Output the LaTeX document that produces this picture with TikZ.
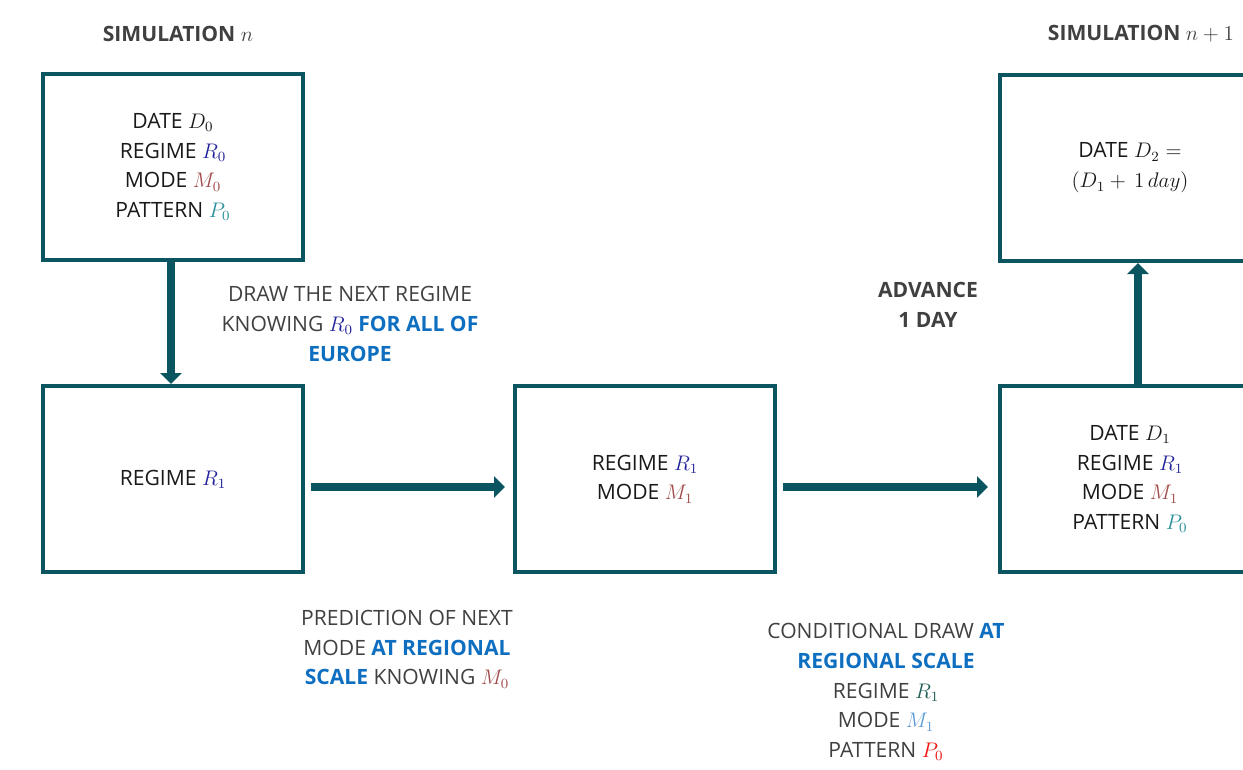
\documentclass[tikz,border=0pt]{standalone}
\usepackage{fontspec}
\setmainfont{Open Sans}
\usetikzlibrary{positioning}
\usetikzlibrary{arrows.meta}
\definecolor{boxline}{HTML}{0B5560}
\definecolor{txtgray}{HTML}{404040}
\definecolor{hlblue}{HTML}{0E6EC0}
\definecolor{regR}{HTML}{22229A}
\definecolor{modeM}{HTML}{A04A4A}
\definecolor{patP}{HTML}{2A8F9C}
\definecolor{regRb}{HTML}{1F5F55}
\definecolor{modeMb}{HTML}{5B9BD5}
\definecolor{patPb}{HTML}{F01010}

\begin{document}
\begin{tikzpicture}[x=0.02cm,y=-0.02cm,
  simbox/.style={draw=boxline,line width=2.3pt,minimum width=5.2cm,minimum height=3.72cm,align=center,font=\fontsize{12}{17}\selectfont,text=black!90},
  note/.style={align=center,text=txtgray,font=\fontsize{12}{17}\selectfont},
  title/.style={text=txtgray,font=\fontsize{12}{17}\selectfont\bfseries},
  flow/.style={draw=boxline,line width=4.5pt,-{Triangle[width=0.42cm,length=0.22cm]}}]
  \useasboundingbox (0,0) rectangle (1243,770);
  % boxes
  \node[simbox] (d0) at (173,167) {DATE $D_0$\\REGIME $\textcolor{regR}{R_0}$\\MODE $\textcolor{modeM}{M_0}$\\PATTERN $\textcolor{patP}{P_0}$};
  \node[simbox] (r1) at (173,479) {REGIME $\textcolor{regR}{R_1}$};
  \node[simbox] (m1) at (645,479) {REGIME $\textcolor{regR}{R_1}$\\MODE $\textcolor{modeM}{M_1}$};
  \node[simbox] (d1) at (1130,479) {DATE $D_1$\\REGIME $\textcolor{regR}{R_1}$\\MODE $\textcolor{modeM}{M_1}$\\PATTERN $\textcolor{patP}{P_0}$};
  \node[simbox] (d2) at (1130,168) {DATE $D_2 =$\\$(D_1 +\, 1\, day)$};
  % titles
  \node[title] (simn) at (178,34) {SIMULATION $n$};
  \node[title] (simnn) at (1141,34) {SIMULATION $n+1$};
  \node[title,align=center] (adv) at (928,305) {ADVANCE\\1 DAY};
  % notes
  \node[note] (drawreg) at (350,324) {DRAW THE NEXT REGIME\\KNOWING $\textcolor{regR}{R_0}$ \textbf{\color{hlblue}FOR ALL OF}\\\textbf{\color{hlblue}EUROPE}};
  \node[note] (predmode) at (407,649) {PREDICTION OF NEXT\\MODE \textbf{\color{hlblue}AT REGIONAL}\\\textbf{\color{hlblue}SCALE} KNOWING $\textcolor{modeM}{M_0}$};
  \node[note] (conddraw) at (886,692) {CONDITIONAL DRAW \textbf{\color{hlblue}AT}\\\textbf{\color{hlblue}REGIONAL SCALE}\\REGIME $\textcolor{regRb}{R_1}$\\MODE $\textcolor{modeMb}{M_1}$\\PATTERN $\textcolor{patPb}{P_0}$};
  % arrows
  \draw[flow] ([xshift=-0.04cm]d0.south) -- ([xshift=-0.04cm]r1.north);
  \draw[flow] ([shift={(0.12cm,-0.16cm)}]r1.east) -- ([shift={(-0.16cm,-0.16cm)}]m1.west);
  \draw[flow] ([shift={(0.12cm,-0.16cm)}]m1.east) -- ([shift={(-0.2cm,-0.16cm)}]d1.west);
  \draw[flow] ([xshift=0.16cm]d1.north) -- ([xshift=0.16cm]d2.south);
\end{tikzpicture}
\end{document}
